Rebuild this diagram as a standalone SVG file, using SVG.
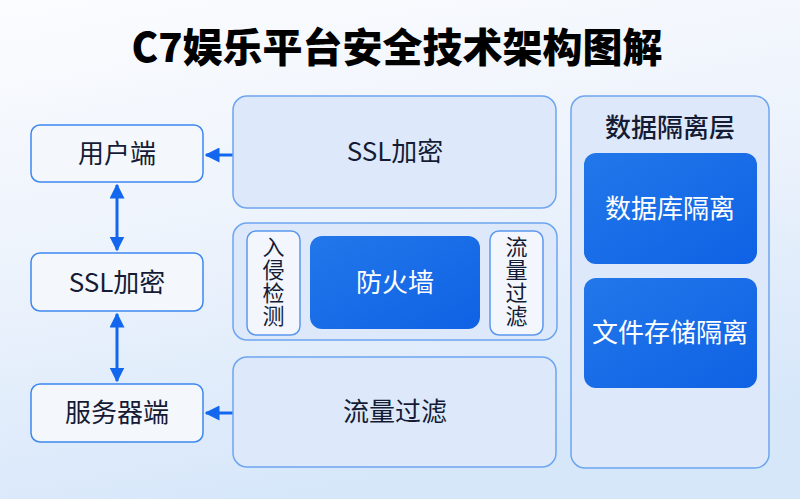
<svg xmlns="http://www.w3.org/2000/svg" width="800" height="499" viewBox="0 0 800 499">
<defs>
<linearGradient id="bg" x1="0" y1="0" x2="0.3" y2="1">
<stop offset="0" stop-color="#fbfcfe"/>
<stop offset="0.5" stop-color="#edf3fc"/>
<stop offset="1" stop-color="#d7e7fa"/>
</linearGradient>
<linearGradient id="blue" x1="0" y1="0" x2="1" y2="1">
<stop offset="0" stop-color="#2277ea"/>
<stop offset="1" stop-color="#0f62e4"/>
</linearGradient>
<marker id="ah" viewBox="0 0 10 10" refX="9" refY="5" markerWidth="5" markerHeight="5" orient="auto-start-reverse" markerUnits="strokeWidth">
<path d="M0,0 L10,5 L0,10 z" fill="#1367ee"/>
</marker>
<style>
text{font-family:"Noto Sans CJK SC","Noto Sans",sans-serif;fill:#151b35;text-anchor:middle}
.title{font-size:40px;font-weight:900;fill:#000}
.lbl{font-size:26px}
.vl{font-size:22px;writing-mode:vertical-rl;letter-spacing:1px}
.wt{fill:#fff}
.lbox{fill:#f4f7fc;stroke:#3d88ef;stroke-width:1.5}
.pbox{fill:#dde9fa;stroke:#6ea5ef;stroke-width:1.5}
.sbox{fill:#f3f6fc;stroke:#5b98ee;stroke-width:1.5}
.bbox{fill:url(#blue)}
.con{stroke:#1367ee;stroke-width:3;fill:none}
</style>
</defs>
<rect width="800" height="499" fill="url(#bg)"/>
<text class="title" x="397" y="62">C7娱乐平台安全技术架构图解</text>

<g id="connectors">
<line class="con" x1="117" y1="185" x2="117" y2="250" marker-start="url(#ah)" marker-end="url(#ah)"/>
<line class="con" x1="117" y1="314" x2="117" y2="381" marker-start="url(#ah)" marker-end="url(#ah)"/>
<line class="con" x1="233" y1="155" x2="206" y2="155" marker-end="url(#ah)"/>
<line class="con" x1="233" y1="413" x2="206" y2="413" marker-end="url(#ah)"/>
</g>

<g id="user">
<rect class="lbox" x="31" y="125" width="172" height="57" rx="9"/>
<text class="lbl" x="117" y="163">用户端</text>
</g>
<g id="ssl-left">
<rect class="lbox" x="31" y="253" width="172" height="58" rx="9"/>
<text class="lbl" x="117" y="292">SSL加密</text>
</g>
<g id="server">
<rect class="lbox" x="31" y="384" width="172" height="58" rx="9"/>
<text class="lbl" x="117" y="422">服务器端</text>
</g>

<g id="ssl-right">
<rect class="pbox" x="233" y="96" width="323" height="112" rx="14"/>
<text class="lbl" x="395" y="161">SSL加密</text>
</g>
<g id="firewall-group">
<rect class="pbox" x="233" y="223" width="324" height="117" rx="14"/>
</g>
<g id="ids">
<rect class="sbox" x="247" y="231" width="53" height="104" rx="9"/>
<text class="vl" x="273.5" y="282">入侵检测</text>
</g>
<g id="firewall">
<rect class="bbox" x="310" y="236" width="170" height="93" rx="12"/>
<text class="lbl wt" x="395" y="292">防火墙</text>
</g>
<g id="filter-small">
<rect class="sbox" x="490" y="231" width="53" height="104" rx="9"/>
<text class="vl" x="516.5" y="282">流量过滤</text>
</g>
<g id="filter">
<rect class="pbox" x="233" y="357" width="323" height="110" rx="14"/>
<text class="lbl" x="395" y="421">流量过滤</text>
</g>

<g id="data-layer">
<rect class="pbox" x="571" y="96" width="198" height="372" rx="14"/>
<text class="lbl" x="670" y="137" style="font-weight:500">数据隔离层</text>
</g>
<g id="db-iso">
<rect class="bbox" x="584" y="153" width="173" height="111" rx="12"/>
<text class="lbl wt" x="670" y="218">数据库隔离</text>
</g>
<g id="file-iso">
<rect class="bbox" x="584" y="278" width="173" height="110" rx="12"/>
<text class="lbl wt" x="670" y="342">文件存储隔离</text>
</g>
</svg>
